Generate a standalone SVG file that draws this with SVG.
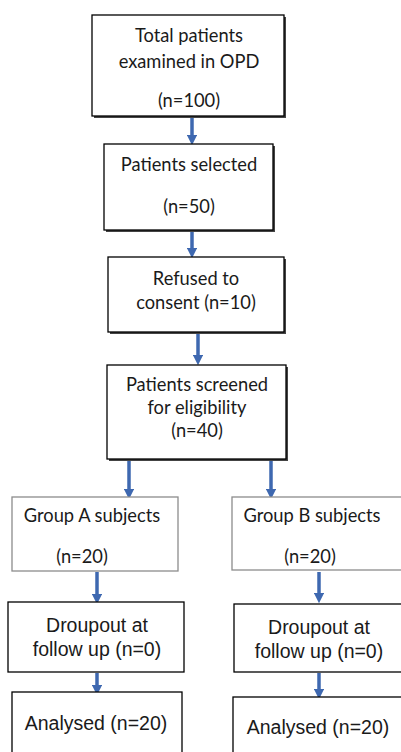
<svg xmlns="http://www.w3.org/2000/svg" width="401" height="752" viewBox="0 0 401 752">
<style>
.box{fill:#fff;stroke:#000;stroke-width:1.3}
.gbox{fill:#fff;stroke:#8c8c8c;stroke-width:1.3}
.sh{fill:#444}
.t1{font-family:Lato,"Open Sans",sans-serif;font-size:18.3px;fill:#1a1a1a;text-anchor:middle}
.t2{font-family:"Liberation Sans",Arial,sans-serif;font-size:19.5px;fill:#1a1a1a;text-anchor:middle}
.ar{stroke:#3e68b0;stroke-width:3.5;fill:none;marker-end:url(#ah)}
</style>
<defs>
<marker id="ah" markerWidth="3" markerHeight="3" refX="1.5" refY="1.5" orient="auto" markerUnits="strokeWidth" viewBox="0 0 3 3">
<path d="M0,0 L3,1.5 L0,3 Z" fill="#3e68b0"/>
</marker>
</defs>
<g id="connectors">
<line class="ar" x1="192" y1="118" x2="192" y2="140"/>
<line class="ar" x1="192" y1="232" x2="192" y2="253"/>
<line class="ar" x1="198" y1="334" x2="198" y2="360"/>
<line class="ar" x1="129" y1="461" x2="129" y2="494"/>
<line class="ar" x1="271" y1="461" x2="271" y2="494"/>
<line class="ar" x1="97" y1="572" x2="97" y2="599"/>
<line class="ar" x1="319" y1="572" x2="319" y2="598"/>
<line class="ar" x1="97" y1="673" x2="97" y2="690"/>
<line class="ar" x1="319" y1="673" x2="319" y2="694"/>
</g>
<g id="n1">
<rect class="sh" x="94" y="17" width="192" height="101"/>
<rect class="box" x="92" y="15" width="192" height="101"/>
<text class="t1" x="189" y="42">Total patients</text>
<text class="t1" x="189" y="68">examined in OPD</text>
<text class="t1" x="189" y="107">(n=100)</text>
</g>
<g id="n2">
<rect class="sh" x="106" y="146" width="169" height="86"/>
<rect class="box" x="104" y="144" width="169" height="86"/>
<text class="t1" x="189" y="171">Patients selected</text>
<text class="t1" x="189" y="213">(n=50)</text>
</g>
<g id="n3">
<rect class="sh" x="110" y="259" width="176" height="75"/>
<rect class="box" x="108" y="257" width="176" height="75"/>
<text class="t1" x="196" y="285">Refused to</text>
<text class="t1" x="196" y="309">consent (n=10)</text>
</g>
<g id="n4">
<rect class="sh" x="109" y="367" width="179" height="94"/>
<rect class="box" x="107" y="365" width="179" height="94"/>
<text class="t1" x="197" y="391">Patients screened</text>
<text class="t1" x="197" y="414">for eligibility</text>
<text class="t1" x="197" y="437">(n=40)</text>
</g>
<g id="n5">
<rect class="gbox" x="12" y="497" width="166" height="74"/>
<text class="t1" x="92" y="522">Group A subjects</text>
<text class="t1" x="82" y="563">(n=20)</text>
</g>
<g id="n6">
<rect class="gbox" x="232" y="497" width="172" height="73"/>
<text class="t1" x="312" y="522">Group B subjects</text>
<text class="t1" x="310" y="563">(n=20)</text>
</g>
<g id="n7">
<rect class="box" x="8" y="602" width="176" height="70"/>
<text class="t2" x="97" y="632">Droupout at</text>
<text class="t2" x="97" y="656">follow up (n=0)</text>
</g>
<g id="n8">
<rect class="box" x="234" y="604" width="170" height="68"/>
<text class="t2" x="319" y="634">Droupout at</text>
<text class="t2" x="319" y="658">follow up (n=0)</text>
</g>
<g id="n9">
<rect class="box" x="12" y="692" width="170" height="70"/>
<text class="t2" x="96" y="730">Analysed (n=20)</text>
</g>
<g id="n10">
<rect class="box" x="233" y="697" width="172" height="70"/>
<text class="t2" x="318" y="734">Analysed (n=20)</text>
</g>
</svg>
